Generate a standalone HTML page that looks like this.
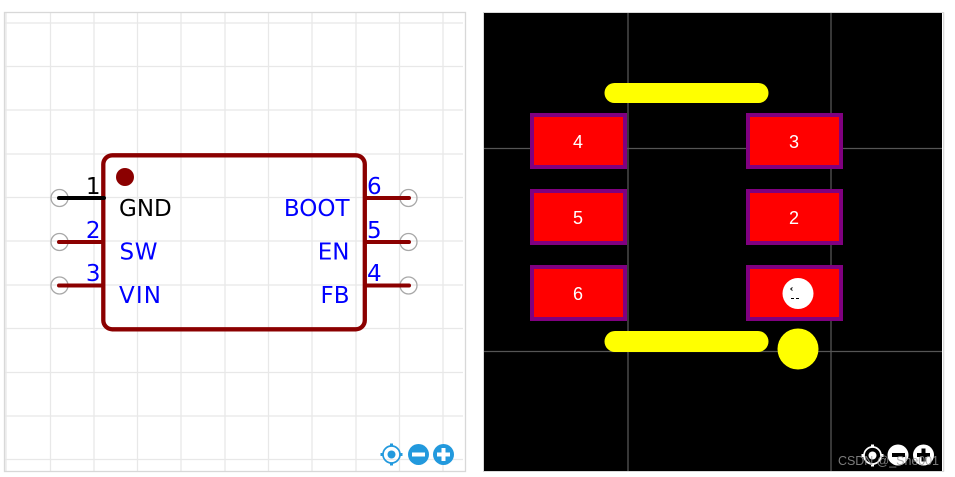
<!DOCTYPE html>
<html><head><meta charset="utf-8"><style>
html,body{margin:0;padding:0;background:#fff;width:955px;height:477px;overflow:hidden}
svg{display:block}
.s{font-family:"DejaVu Sans",sans-serif;font-size:23px}
.p{font-family:"Liberation Sans",sans-serif;font-size:18px;fill:#fff;text-anchor:middle}
</style></head><body>
<svg width="955" height="477" viewBox="0 0 955 477" xmlns="http://www.w3.org/2000/svg" shape-rendering="geometricPrecision">
<rect width="955" height="477" fill="#fff"/>
<!-- left panel grid -->
<g stroke="#e8e8e8" stroke-width="1.3" fill="none">
<path d="M6 13V471M50.5 13V471M94 13V471M137.5 13V471M181 13V471M225 13V471M268.500 13V471M312 13V471M356 13V471M399.500 13V471M443 13V471"/>
<path d="M5 23H463M5 66.500H463M5 110H463M5 154H463M5 197.500H463M5 241H463M5 285H463M5 328.500H463M5 372.500H463M5 416H463M5 459.500H463"/>
</g>
<rect x="4.500" y="12.500" width="461" height="459" fill="none" stroke="#d8d8d8" stroke-width="1.300"/>
<!-- pins -->
<g fill="#fff" fill-opacity="0" stroke="#a8a8a8" stroke-width="1.300">
<circle cx="59.500" cy="198" r="8.500"/><circle cx="59.500" cy="242" r="8.500"/><circle cx="59.500" cy="285.500" r="8.500"/>
<circle cx="408.500" cy="198" r="8.500"/><circle cx="408.500" cy="242" r="8.500"/><circle cx="408.500" cy="285.500" r="8.500"/>
</g>
<g stroke="#8b0000" stroke-width="4" stroke-linecap="round" fill="none">
<path d="M59 242H103M59 285.500H103M365 198H409M365 242H409M365 285.500H409"/>
</g>
<rect x="103.300" y="155.300" width="261.500" height="174" rx="9" ry="9" fill="none" stroke="#8b0000" stroke-width="4.300"/>
<path d="M59 198H104" stroke="#000" stroke-width="4" stroke-linecap="round"/>
<circle cx="125" cy="177" r="9" fill="#8b0000"/>
<!-- labels -->
<g class="s">
<text x="119" y="216" fill="#000" class="s">GND</text>
<text x="119.500" y="259.500" fill="#0000ff" class="s" textLength="38" lengthAdjust="spacing">SW</text>
<text x="119" y="303" fill="#0000ff" class="s" textLength="42" lengthAdjust="spacing">VIN</text>
<text x="349.500" y="216" fill="#0000ff" text-anchor="end" class="s">BOOT</text>
<text x="349.500" y="259.500" fill="#0000ff" text-anchor="end" class="s">EN</text>
<text x="349.500" y="303" fill="#0000ff" text-anchor="end" class="s">FB</text>
<text x="100.500" y="194" fill="#000" text-anchor="end" class="s">1</text>
<text x="100.500" y="238" fill="#0000ff" text-anchor="end" class="s">2</text>
<text x="100.500" y="281" fill="#0000ff" text-anchor="end" class="s">3</text>
<text x="367" y="194" fill="#0000ff" class="s">6</text>
<text x="367" y="238" fill="#0000ff" class="s">5</text>
<text x="367" y="281" fill="#0000ff" class="s">4</text>
</g>
<!-- left controls -->
<g fill="#2299dd">
<circle cx="391.500" cy="454.500" r="8.500" fill="none" stroke="#2299dd" stroke-width="1.700"/>
<circle cx="391.500" cy="454.500" r="4"/>
<rect x="390" y="443.500" width="3" height="3"/><rect x="390" y="462.500" width="3" height="3"/>
<rect x="380.500" y="453" width="3" height="3"/><rect x="399.500" y="453" width="3" height="3"/>
<circle cx="418.500" cy="454.500" r="10.500"/><circle cx="443.500" cy="454.500" r="10.500"/>
</g>
<rect x="412" y="452.500" width="13" height="4" fill="#fff"/>
<rect x="437" y="452.500" width="13" height="4" fill="#fff"/><rect x="441.500" y="448" width="4" height="13" fill="#fff"/>
<!-- right panel -->
<rect x="943" y="12.500" width="1.300" height="459" fill="#d8d8d8"/>
<rect x="483.500" y="12.500" width="460" height="459" fill="none" stroke="#d8d8d8" stroke-width="1"/>
<rect x="484" y="13" width="458" height="458" fill="#000"/>
<g stroke="#555" stroke-width="1.300" fill="none">
<path d="M628 13V471M831 13V471M484 148.500H942M484 351.500H942"/>
</g>
<g>
<rect x="532" y="115" width="93" height="52" fill="#f00" stroke="#800080" stroke-width="4"/>
<rect x="532" y="191" width="93" height="52" fill="#f00" stroke="#800080" stroke-width="4"/>
<rect x="532" y="267" width="93" height="52" fill="#f00" stroke="#800080" stroke-width="4"/>
<rect x="748" y="115" width="93" height="52" fill="#f00" stroke="#800080" stroke-width="4"/>
<rect x="748" y="191" width="93" height="52" fill="#f00" stroke="#800080" stroke-width="4"/>
<rect x="748" y="267" width="93" height="52" fill="#f00" stroke="#800080" stroke-width="4"/>
</g>
<rect x="604.500" y="83" width="164" height="20" rx="10" fill="#ff0"/>
<rect x="604.500" y="331" width="164" height="21" rx="10.500" fill="#ff0"/>
<circle cx="798" cy="349" r="20.500" fill="#ff0"/>
<circle cx="798" cy="293.500" r="15.500" fill="#fff"/>
<text class="p" x="578" y="148">4</text>
<text class="p" x="578" y="224">5</text>
<text class="p" x="578" y="300">6</text>
<text class="p" x="794" y="148">3</text>
<text class="p" x="794" y="224">2</text>
<text class="p" x="794" y="300">1</text>
<path d="M791 298.500h3M796 298.500h3M790.500 289l2-1.500M790.500 289l2 1.500" stroke="#000" stroke-width="1" fill="none"/>
<!-- right controls -->
<g fill="#fff">
<circle cx="872.500" cy="455.500" r="8.500" fill="none" stroke="#fff" stroke-width="1.700"/>
<circle cx="872.500" cy="455.500" r="4"/>
<rect x="871" y="444.500" width="3" height="3"/><rect x="871" y="463.500" width="3" height="3"/>
<rect x="861.500" y="454" width="3" height="3"/><rect x="880.500" y="454" width="3" height="3"/>
<circle cx="898" cy="455" r="10.500"/><circle cx="923.500" cy="455" r="10.500"/>
</g>
<rect x="892" y="453" width="13" height="4" fill="#000"/>
<rect x="917" y="453" width="13" height="4" fill="#000"/><rect x="921.500" y="448.500" width="4" height="13" fill="#000"/>
<text x="838" y="465" font-family="'Liberation Sans',sans-serif" font-size="12.500" textLength="101" fill="#9a9a9a" fill-opacity="0.8">CSDN @_She001</text>
</svg>
</body></html>
